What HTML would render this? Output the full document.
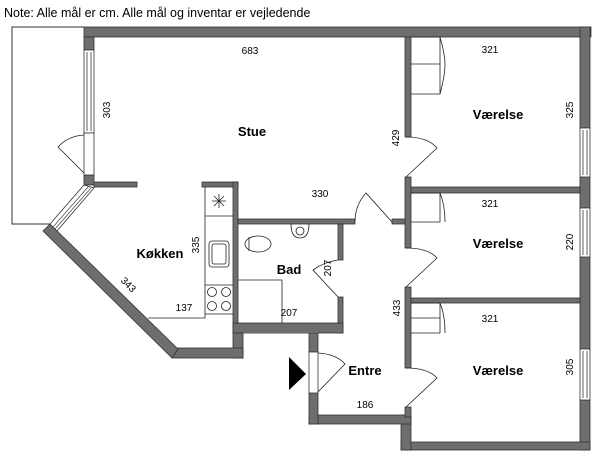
<!DOCTYPE html>
<html><head><meta charset="utf-8"><style>
html,body{margin:0;padding:0;background:#fff;width:600px;height:462px;overflow:hidden}
svg{display:block}
text{font-family:"Liberation Sans",sans-serif;fill:#000}
.d{font-size:10px}
.b{font-size:13px;font-weight:bold}
</style></head><body>
<svg width="600" height="462" viewBox="0 0 600 462" xmlns="http://www.w3.org/2000/svg">
<text x="4" y="17" style="font-size:12.5px">Note: Alle mål er cm. Alle mål og inventar er vejledende</text>
<!-- balcony -->
<polyline points="84,27 12,27 12,224 50,224" fill="none" stroke="#333" stroke-width="1"/>
<g fill="#6e6e6e" stroke="#333" stroke-width="0.8">
<!-- top wall -->
<rect x="84" y="27" width="507" height="10"/>
<!-- right wall -->
<rect x="580" y="27" width="10" height="101"/>
<rect x="580" y="177" width="10" height="31"/>
<rect x="580" y="257" width="10" height="92"/>
<rect x="580" y="400" width="10" height="50"/>
<!-- bottom right -->
<rect x="401" y="442" width="189" height="8"/>
<rect x="401" y="415" width="10" height="35"/>
<rect x="309" y="415" width="102" height="9"/>
<!-- entre left wall -->
<rect x="309" y="328" width="9" height="24"/>
<rect x="309" y="393" width="9" height="31"/>
<!-- left wall top -->
<rect x="84" y="37" width="10" height="13"/>
<rect x="84" y="175" width="10" height="10"/>
<rect x="94" y="182" width="43" height="5"/>
<!-- bedroom partitions -->
<rect x="405" y="37" width="6" height="100"/>
<rect x="405" y="177" width="6" height="71"/>
<rect x="405" y="287" width="6" height="81"/>
<rect x="405" y="407" width="6" height="10"/>
<rect x="411" y="187" width="169" height="6"/>
<rect x="411" y="298" width="169" height="5"/>
<!-- hall stubs -->
<rect x="392" y="219" width="13" height="5"/>
<!-- kitchen / bath -->
<rect x="202" y="182" width="36" height="5"/>
<rect x="233" y="182" width="5" height="151"/>
<rect x="238" y="219" width="117" height="5"/>
<rect x="338" y="224" width="5" height="36"/>
<rect x="338" y="297" width="5" height="36"/>
<rect x="233" y="323" width="110" height="10"/>
<rect x="233" y="333" width="10" height="25"/>
<rect x="243" y="328" width="75" height="5" stroke="none"/>
<rect x="172" y="348" width="71" height="10"/>
</g>
<!-- diagonal wall -->
<polygon points="43,231 50,224 178,349 172,358" fill="#6e6e6e" stroke="#333" stroke-width="0.8"/>
<!-- diagonal window -->
<polygon points="50,224 84,185 94,188 57,231" fill="#fff" stroke="#333" stroke-width="0.8"/>
<line x1="53" y1="227" x2="88" y2="187" stroke="#333" stroke-width="0.6"/>
<line x1="55" y1="229" x2="91" y2="188" stroke="#333" stroke-width="0.6"/>
<!-- windows -->
<g fill="#fff" stroke="#333" stroke-width="0.8">
<rect x="84" y="50" width="10" height="83"/><line x1="87" y1="52" x2="87" y2="131"/><line x1="91" y1="52" x2="91" y2="131"/>
<rect x="84" y="133" width="10" height="42"/>
<rect x="580" y="128" width="10" height="49"/><line x1="583" y1="130" x2="583" y2="175"/><line x1="587" y1="130" x2="587" y2="175"/>
<rect x="580" y="208" width="10" height="49"/><line x1="583" y1="210" x2="583" y2="255"/><line x1="587" y1="210" x2="587" y2="255"/>
<rect x="580" y="349" width="10" height="51"/><line x1="583" y1="351" x2="583" y2="398"/><line x1="587" y1="351" x2="587" y2="398"/>
<rect x="309" y="352" width="9" height="41"/>
</g>
<!-- doors -->
<g fill="none" stroke="#222" stroke-width="0.8">
<path d="M84,173 L58,147 Q68,136 84,135"/>
<path d="M406,177 L437,148 Q428,137 406,137"/>
<path d="M406,287 L437,258 Q428,248 406,248"/>
<path d="M406,407 L437,378 Q428,368 406,368"/>
<path d="M392,222 L366,193 Q355,205 355,222"/>
<path d="M338,297 L313,270 Q324,262 338,260"/>
<path d="M318,392 L345,364 Q336,354 318,353"/>
<!-- wardrobes -->
<path d="M411,37 L440,37 L440,94 L411,94 M411,64 L440,64 M440,37 Q445,55 445,64 Q445,75 440,94"/>
<path d="M411,193 L440,193 L440,222 L411,222 M440,193 Q445,205 445,222"/>
<path d="M411,303 L440,303 L440,333 L411,333 M411,318 L440,318 M440,303 Q445,315 445,333"/>
<!-- kitchen counter -->
<path d="M205,187 L205,318 L148,318 M205,216 L233,216 M205,285 L233,285 M205,314 L233,314"/>
<rect x="209" y="241" width="20" height="26" rx="3"/>
<rect x="212" y="244" width="14" height="20" rx="2"/>
<circle cx="212" cy="292" r="4.5"/><circle cx="226" cy="292" r="4.5"/>
<circle cx="212" cy="306" r="4.5"/><circle cx="226" cy="306" r="4.5"/>
<path d="M212,201 L226,201 M219,194 L219,208 M214,196 L224,206 M224,196 L214,206"/>
<!-- bath -->
<ellipse cx="258" cy="244" rx="13" ry="8"/>
<line x1="249" y1="237" x2="249" y2="251"/>
<path d="M291,224 Q291,238 300,238 Q309,238 309,224"/>
<circle cx="300" cy="231" r="4"/>
<path d="M238,280 L282,280 L282,323"/>
</g>
<!-- entrance arrow -->
<polygon points="289,357 289,390 306,374" fill="#000"/>
<!-- labels -->
<text class="d" x="250" y="54" text-anchor="middle">683</text>
<text class="d" transform="translate(110,110) rotate(-90)" text-anchor="middle">303</text>
<text class="b" x="252" y="136" text-anchor="middle">Stue</text>
<text class="d" x="320" y="197" text-anchor="middle">330</text>
<text class="d" transform="translate(399,138) rotate(-90)" text-anchor="middle">429</text>
<text class="b" x="160" y="258" text-anchor="middle">Køkken</text>
<text class="d" transform="translate(199,245) rotate(-90)" text-anchor="middle">335</text>
<text class="d" transform="translate(126,287) rotate(45)" text-anchor="middle">343</text>
<text class="d" x="184" y="311" text-anchor="middle">137</text>
<text class="b" x="289" y="274" text-anchor="middle">Bad</text>
<text class="d" transform="translate(331,268) rotate(-90)" text-anchor="middle">207</text>
<text class="d" x="289" y="316" text-anchor="middle">207</text>
<text class="d" transform="translate(400,308) rotate(-90)" text-anchor="middle">433</text>
<text class="b" x="365" y="375" text-anchor="middle">Entre</text>
<text class="d" x="365" y="408" text-anchor="middle">186</text>
<text class="d" x="490" y="53" text-anchor="middle">321</text>
<text class="d" x="490" y="207" text-anchor="middle">321</text>
<text class="d" x="490" y="322" text-anchor="middle">321</text>
<text class="b" x="498" y="119" text-anchor="middle">Værelse</text>
<text class="b" x="498" y="248" text-anchor="middle">Værelse</text>
<text class="b" x="498" y="375" text-anchor="middle">Værelse</text>
<text class="d" transform="translate(573,110) rotate(-90)" text-anchor="middle">325</text>
<text class="d" transform="translate(573,242) rotate(-90)" text-anchor="middle">220</text>
<text class="d" transform="translate(573,367) rotate(-90)" text-anchor="middle">305</text>
</svg>
</body></html>
